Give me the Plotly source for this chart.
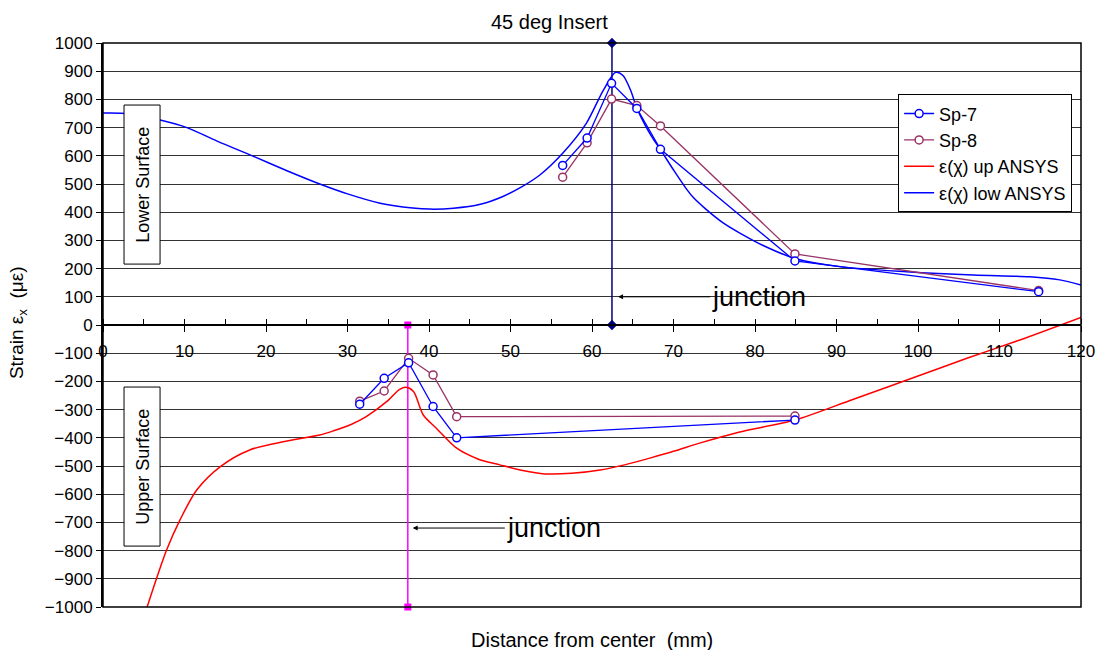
import plotly.graph_objects as go

# ---- data ----
sp_x = [56.4, 59.4, 62.4, 65.5, 68.4, 84.9, 114.8, None, 31.5, 34.5, 37.5, 40.5, 43.4, 84.9]
sp7_y = [566, 663, 857, 768, 623, 227, 118, None, -281, -189, -134, -289, -400, -337]
sp8_y = [524, 646, 801, 778, 706, 252, 122, None, -270, -234, -118, -177, -325, -323]

low_x = [0, 3, 7, 10.3, 14, 18.4, 22.5, 26.6, 30, 34, 38, 40.1, 43, 46.3, 49, 51.2, 53.6,
         56.4, 59.3, 61.4, 62.9, 63.8, 64.7, 65.5, 66.5, 67.5, 68.4, 70, 71.6, 72.5, 74, 76,
         78.2, 81, 84.9, 90.4, 98.6, 106.8, 113.7, 117.4, 120]
low_y = [752, 750, 727, 700, 652, 599, 548, 500, 465, 432, 415, 411, 414, 428, 455, 487, 532,
         609, 715, 833, 896, 885, 835, 770, 710, 660, 622, 550, 482, 450, 410, 364,
         325, 282, 236, 207, 189, 177, 171, 160, 142]

up_x = [5.3, 7.8, 9.45, 11.5, 14.4, 18.0, 22.1, 26.6, 28.3, 30.5, 32.3, 34.8, 36.4, 37.2,
        38.1, 39.3, 40.9, 43.4, 46, 48.7, 51.5, 54.2, 57.5, 61, 64, 67.1, 70, 73.3, 78,
        84.9, 92, 100, 106, 112.5, 120]
up_y = [-1010, -798, -691, -585, -502, -443, -414, -390, -375, -352, -325, -272, -228, -221,
        -236, -319, -366, -437, -475, -496, -516, -528, -526, -514, -496, -472, -448, -418, -380,
        -337, -264, -181, -118, -53, 27]

junction_low_x = [62.45, 62.45]
junction_low_y = [0, 1000]
junction_up_x = [37.4, 37.4]
junction_up_y = [-1000, 0]

FONT = "Liberation Sans, Arial, sans-serif"

fig = go.Figure()

fig.add_trace(go.Scatter(x=junction_low_x, y=junction_low_y, mode="lines+markers",
                         line=dict(color="#000080", width=1.5),
                         marker=dict(symbol="diamond", size=8, color="#000080"),
                         showlegend=False, cliponaxis=False, hoverinfo="skip"))
fig.add_trace(go.Scatter(x=junction_up_x, y=junction_up_y, mode="lines+markers",
                         line=dict(color="#FF00FF", width=1.5),
                         marker=dict(symbol="square", size=7, color="#FF00FF"),
                         showlegend=False, cliponaxis=False, hoverinfo="skip"))

fig.add_trace(go.Scatter(x=low_x, y=low_y, mode="lines", name="ε(χ) low ANSYS",
                         line=dict(color="#0000FF", width=1.5, shape="spline", smoothing=0.8),
                         legendrank=4))
fig.add_trace(go.Scatter(x=up_x, y=up_y, mode="lines", name="ε(χ) up ANSYS",
                         line=dict(color="#FF0000", width=1.5, shape="spline", smoothing=0.8),
                         legendrank=3))
fig.add_trace(go.Scatter(x=sp_x, y=sp8_y, mode="lines+markers", name="Sp-8",
                         line=dict(color="#993366", width=1.3),
                         marker=dict(symbol="circle", size=8, color="white",
                                     line=dict(color="#993366", width=1.5)),
                         connectgaps=False, legendrank=2))
fig.add_trace(go.Scatter(x=sp_x, y=sp7_y, mode="lines+markers", name="Sp-7",
                         line=dict(color="#0000FF", width=1.3),
                         marker=dict(symbol="circle", size=8, color="white",
                                     line=dict(color="#0000FF", width=1.5)),
                         connectgaps=False, legendrank=1))

fig.update_layout(
    width=1096, height=650,
    margin=dict(l=103, r=15, t=43, b=43, autoexpand=False),
    plot_bgcolor="white", paper_bgcolor="white",
    font=dict(family=FONT, size=17, color="black"),
    showlegend=True,
    legend=dict(x=0.813, y=0.909, xanchor="left", yanchor="top",
                bgcolor="white", bordercolor="black", borderwidth=1,
                font=dict(size=18, family=FONT), tracegroupgap=0),
    xaxis=dict(range=[0, 120], anchor="free", position=0.5, dtick=10,
               showline=True, linecolor="black", linewidth=1.5,
               ticks="outside", ticklen=6, tickcolor="black", tickwidth=1,
               minor=dict(dtick=5, ticks="inside", ticklen=5, tickcolor="black"),
               showgrid=False, zeroline=False, tickfont=dict(size=17),
               ticklabelstandoff=5, automargin=False),
    yaxis=dict(range=[-1000, 1000], dtick=100, showgrid=True, gridcolor="#333333",
               gridwidth=1, showline=True, linecolor="black", linewidth=2,
               ticks="outside", ticklen=5, tickcolor="black", zeroline=False,
               tickfont=dict(size=17), automargin=False),
)

# plot border
fig.add_shape(type="rect", xref="paper", yref="paper", x0=0, x1=1, y0=0, y1=1,
              line=dict(color="black", width=1.5), layer="above")

# surface label boxes
fig.add_shape(type="rect", xref="x", yref="y", x0=2.58, x1=7.0, y0=216, y1=780,
              line=dict(color="black", width=1), fillcolor="white", layer="above")
fig.add_shape(type="rect", xref="x", yref="y", x0=2.58, x1=7.0, y0=-784, y1=-220,
              line=dict(color="black", width=1), fillcolor="white", layer="above")
fig.add_annotation(x=4.8, y=498, xref="x", yref="y", text="Lower Surface", textangle=-90,
                   showarrow=False, font=dict(size=18))
fig.add_annotation(x=4.8, y=-502, xref="x", yref="y", text="Upper Surface", textangle=-90,
                   showarrow=False, font=dict(size=18))

# junction arrows
fig.add_annotation(x=63.2, y=100, ax=74.5, ay=100, xref="x", yref="y", axref="x", ayref="y",
                   text="junction", xanchor="left", showarrow=True, arrowhead=2,
                   arrowsize=1, arrowwidth=1, arrowcolor="black", font=dict(size=27))
fig.add_annotation(x=38.0, y=-720, ax=49.3, ay=-720, xref="x", yref="y", axref="x", ayref="y",
                   text="junction", xanchor="left", showarrow=True, arrowhead=2,
                   arrowsize=1, arrowwidth=1, arrowcolor="black", font=dict(size=27))

# titles
fig.add_annotation(x=54.8, y=1.037, xref="x", yref="paper", text="45 deg Insert",
                   showarrow=False, font=dict(size=20), yanchor="middle")
fig.add_annotation(x=0.5, y=-0.0585, xref="paper", yref="paper",
                   text="Distance from center  (mm)", showarrow=False,
                   font=dict(size=20), yanchor="middle")
fig.add_annotation(x=-0.087, y=0.505, xref="paper", yref="paper",
                   text="Strain ε<sub>x</sub>  (με)", textangle=-90, showarrow=False,
                   font=dict(size=19), xanchor="center", yanchor="middle")

fig.write_html("out.html", config={"displayModeBar": False},
               post_script="document.body.style.margin='0px';document.body.style.overflow='hidden';")
